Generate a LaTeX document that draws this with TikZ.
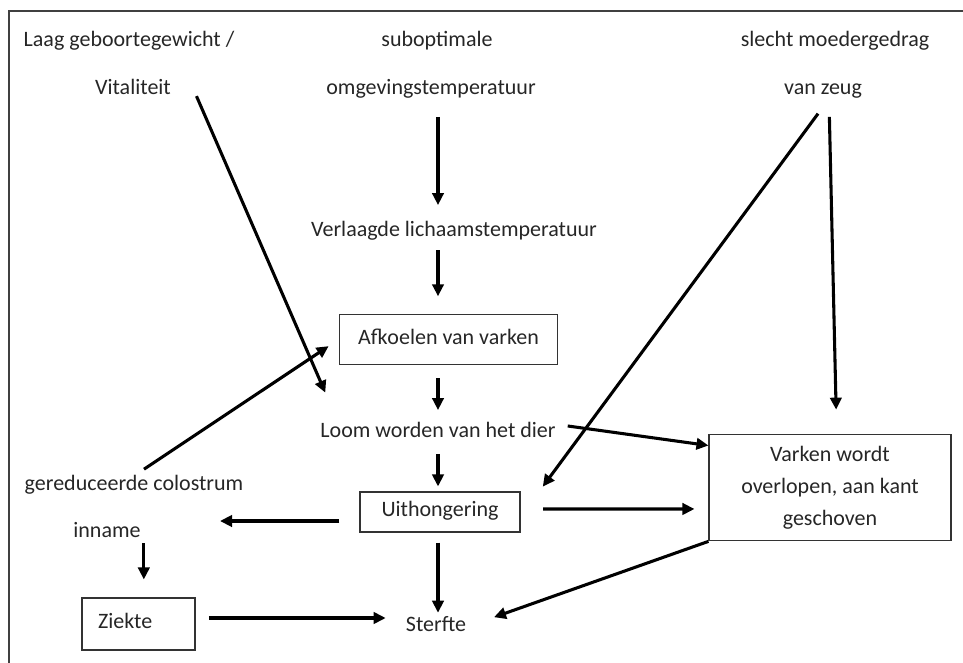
\documentclass[tikz,border=0pt]{standalone}
\usepackage{fontspec}
\setmainfont{Carlito}
\usepackage{tikz}
\usetikzlibrary{arrows.meta}

\begin{document}
\begin{tikzpicture}[x=0.75pt, y=-0.75pt,
		txt/.style={inner sep=0pt, text height=11pt, text depth=3.8pt, text=black!85, font=\fontsize{16.5}{20}\selectfont},
		box/.style={txt, draw=black!80, line width=0.8pt},
		pijl/.style={-{Triangle[length=9pt,width=8.5pt]}, line width=2.3pt, black}]
			%%%%% START %%%%%
			
			\useasboundingbox (0, 0) rectangle (963, 663);
			\draw[line width=0.8pt, color=black!75] (9, 663) -- (9, 11) -- (963, 11);
			
			% oorzaken bovenaan
			\node[txt] (lbw) at (129, 42) {Laag geboortegewicht /};
			\node[txt] (vit) at (133, 90) {Vitaliteit};
			\node[txt] (subopt) at (437, 42) {suboptimale};
			\node[txt] (omg) at (431, 90) {omgevingstemperatuur};
			\node[txt] (slecht) at (835, 42) {slecht moedergedrag};
			\node[txt] (zeug) at (823, 90) {van zeug};
			
			% middenkolom
			\node[txt] (verl) at (454, 232) {Verlaagde lichaamstemperatuur};
			\node[box, minimum width=164pt, minimum height=37pt] (afk) at (448.5, 339.5) {Afkoelen van varken};
			\node[txt] (loom) at (438, 433) {Loom worden van het dier};
			\node[box, minimum width=120pt, minimum height=30pt] (uith) at (440, 512) {Uithongering};
			\node[txt] (sterfte) at (436, 627) {Sterfte};
			
			% rechts
			\node[box, minimum width=181.5pt, minimum height=80pt, align=center, font=\fontsize{16.5}{24}\selectfont, text height=, text depth=] (varken) at (830, 487.5) {Varken wordt\\overlopen, aan kant\\geschoven};
			
			% links
			\node[txt] (gered) at (134, 486) {gereduceerde colostrum};
			\node[txt] (inname) at (107, 533) {inname};
			\node[box, text width=60.75pt, align=left, inner xsep=12pt, minimum height=39pt] (ziekte) at (138.5, 624) {Ziekte};
			\coordinate (links) at (220, 521);
			
			% pijlen middenkolom
			\draw[pijl, shorten <=12.6pt, shorten >=12.6pt] (omg.south -| loom.center) -- (verl.north -| loom.center);
			\draw[pijl, shorten <=6.1pt, shorten >=13.5pt] (verl.south -| loom.center) -- (afk.north -| loom.center);
			\draw[pijl, shorten <=10pt, shorten >=9.6pt] (afk.south -| loom.center) -- (loom.north);
			\draw[pijl, shorten <=8.1pt, shorten >=3.75pt] (loom.south) -- (uith.north -| loom.center);
			\draw[pijl, shorten <=7.5pt, shorten >=3.1pt] (uith.south -| loom.center) -- (sterfte.north -| loom.center);
			
			% pijlen links
			\draw[pijl, shorten <=15pt] ([yshift=-6.75pt]uith.west) -- (links);
			\draw[pijl, shorten >=13.5pt] ([xshift=4pt]inname.south -| ziekte.north) -- ([xshift=4pt]ziekte.north);
			\draw[pijl, shorten <=10pt, shorten >=15pt] ([yshift=4.5pt]ziekte.east) -- ([yshift=6.75pt]sterfte.west);
			\draw[pijl, shorten <=9pt, shorten >=9pt] (gered.north) -- (afk.west);
			\draw[pijl, shorten <=5pt, shorten >=33pt] ([xshift=17pt]vit.east) -- ([xshift=17pt]loom.west);
			
			% pijlen rechts
			\draw[pijl, shorten <=12.6pt, shorten >=4.5pt] ([xshift=3.75pt]zeug.south) -- ([xshift=14pt]uith.north east);
			\draw[pijl, shorten <=12.6pt, shorten >=18pt] ([xshift=4.5pt]zeug.south) -- ([xshift=5pt]varken.north);
			\draw[pijl, shorten <=9pt] ([yshift=6.5pt]loom.east) -- ([yshift=31.5pt]varken.west);
			\draw[pijl, shorten <=17pt, shorten >=10.5pt] ([yshift=2.25pt]uith.east) -- ([yshift=-16.1pt]varken.west);
			\draw[pijl, shorten >=22pt] (varken.south west) -- (sterfte.east);
			
			%%%%% END %%%%%
		\end{tikzpicture}
\end{document}
